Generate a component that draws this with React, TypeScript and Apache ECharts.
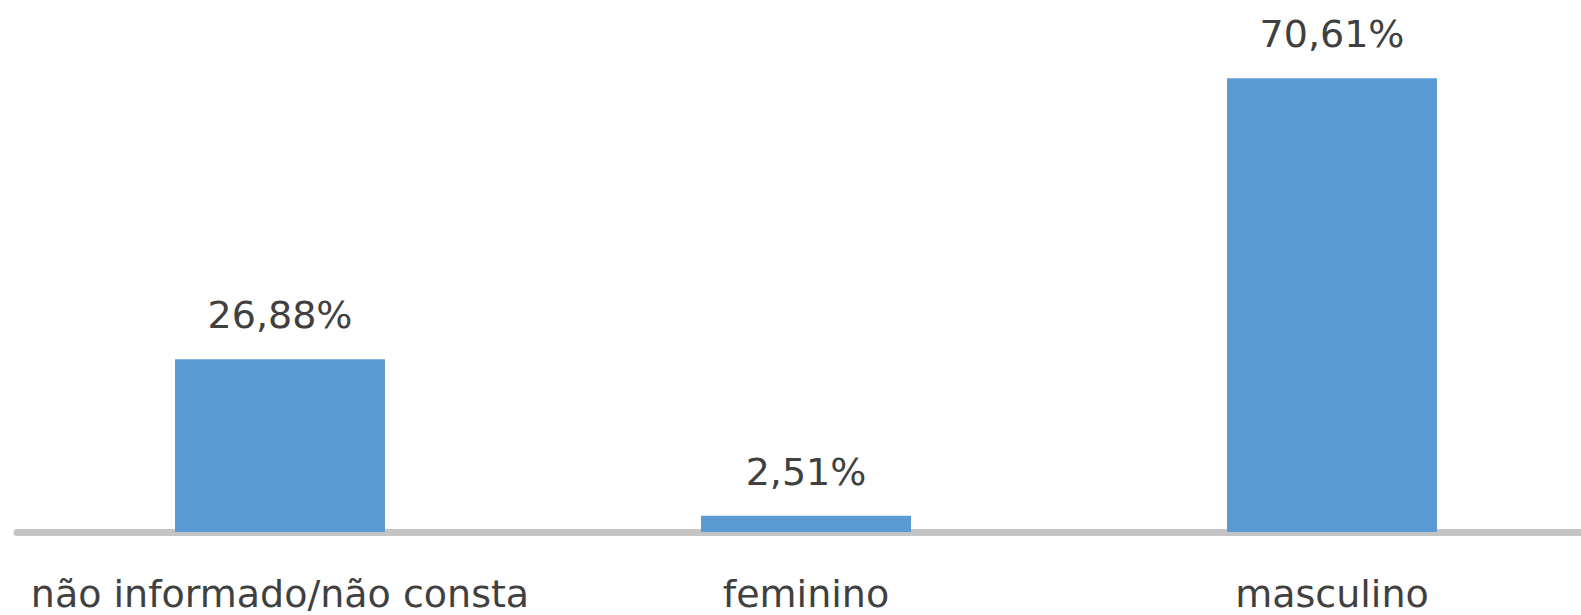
import React, { useEffect, useRef } from "react";
import * as echarts from "echarts";

const categories = ["não informado/não consta", "feminino", "masculino"];
const values = [26.88, 2.51, 70.61];

const fmt = (v: number) => v.toFixed(2).replace(".", ",") + "%";

export default function App() {
  const ref = useRef<HTMLDivElement>(null);
  useEffect(() => {
    document.body.style.margin = "0";
    const chart = echarts.init(ref.current!, null, { renderer: "svg" });
    chart.setOption({
      animation: false,
      backgroundColor: "#ffffff",
      grid: { left: 17, right: 5, top: 18, bottom: 83, containLabel: false },
      xAxis: {
        type: "category",
        data: categories,
        axisLine: { show: true, lineStyle: { color: "#c4c4c4", width: 7 } },
        axisTick: { show: false },
        axisLabel: {
          margin: 43,
          fontFamily: "DejaVu Sans",
          fontSize: 38,
          lineHeight: 38,
          color: "#404040",
          interval: 0,
        },
      },
      yAxis: {
        type: "value",
        min: 0,
        max: 80,
        show: false,
        splitLine: { show: false },
      },
      series: [
        {
          type: "bar",
          data: values,
          barWidth: 210,
          itemStyle: { color: "#5b9bd5" },
          label: {
            show: true,
            position: "top",
            distance: 25,
            fontFamily: "DejaVu Sans",
            fontSize: 38,
            color: "#404040",
            formatter: (p: any) => fmt(p.value),
          },
        },
      ],
    });
    return () => chart.dispose();
  }, []);
  return (
    <div style={{ width: 1581, height: 615, overflow: "hidden", position: "relative" }}>
      <div ref={ref} style={{ width: 1600, height: 615 }} />
    </div>
  );
}
